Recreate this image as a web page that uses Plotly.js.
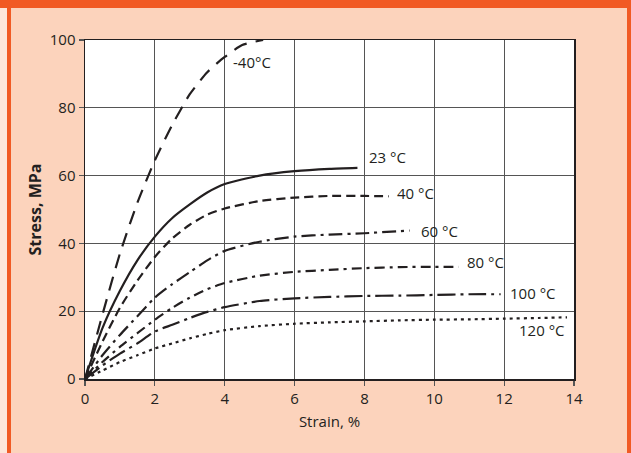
<!DOCTYPE html>
<html><head><meta charset="utf-8">
<script src="https://cdn.plot.ly/plotly-3.0.1.min.js"></script>
<style>
html,body{margin:0;padding:0;}
#frame{position:absolute;left:0;top:0;width:631px;height:453px;background:#fcd3bc;overflow:hidden;}
#topbar{position:absolute;left:0;top:0;width:631px;height:8px;background:#f15a24;}
#leftlite{position:absolute;left:0;top:8px;width:7px;height:445px;background:#fde6da;}
#leftbar{position:absolute;left:7px;top:8px;width:4px;height:445px;background:#f15a24;}
#rightbar{position:absolute;left:627px;top:8px;width:4px;height:445px;background:#f15a24;}
#chart{position:absolute;left:0;top:0;width:631px;height:453px;}
</style></head>
<body>
<div id="frame"><div id="topbar"></div><div id="leftlite"></div><div id="leftbar"></div><div id="rightbar"></div></div>
<div id="chart"></div>
<script>
// Strain (%) and stress (MPa)
const xM40 = [0,0.5,1,1.5,2,2.5,3,3.5,4,4.5,5.1];
const yM40 = [0,19,37,52,64.5,75,84,90.5,95,98.5,100];
const x23 = [0,0.5,1,1.5,2,2.5,3,3.5,4,5,6,7,7.8];
const y23 = [0,15,26,35,42,47.5,51.5,55,57.5,60,61.3,62,62.3];
const x40 = [0,0.5,1,1.5,2,2.5,3,3.5,4,5,6,7,8,8.7];
const y40 = [0,11,21,29,36,41.5,45.5,48.5,50.3,52.5,53.5,54,54,53.9];
const x60 = [0,0.5,1,1.5,2,2.5,3,3.5,4,5,6,7,8,9.3];
const y60 = [0,7,13,18.5,24,28,31.5,35,37.8,40.5,42,42.6,43,43.8];
const x80 = [0,0.5,1,1.5,2,2.5,3,3.5,4,5,6,7,8,9,10,10.7];
const y80 = [0,5,9.5,13.5,17.5,21,24,26.5,28.3,30.5,31.6,32.2,32.7,33,33.1,33.1];
const x100 = [0,0.5,1,1.5,2,2.5,3,3.5,4,5,6,7,8,9,10,11,11.9];
const y100 = [0,4,7.5,10.5,14,16,18,19.8,21.2,23,23.8,24.2,24.5,24.6,24.8,25,25];
const x120 = [0,0.5,1,1.5,2,2.5,3,3.5,4,5,6,7,8,9,10,11,12,13,13.8];
const y120 = [0,2.5,5,7,9,10.5,12,13.3,14.4,15.6,16.3,16.7,17,17.3,17.5,17.6,17.8,18,18.2];

const labels = ['-40°C','23 °C','40 °C','60 °C','80 °C','100 °C','120 °C'];
const labelX = [4.18,8.08,8.87,9.57,10.88,12.1,12.38];
const labelY = [93.5,65.4,54.8,43.7,34.6,25.5,14.5];

const xTicks = [0,2,4,6,8,10,12,14];
const yTicks = [0,20,40,60,80,100];

const ink = '#231f20';
const font = 'Open Sans, Noto Sans, sans-serif';
const series = [
  [xM40,yM40,'14px,9px'],
  [x23,y23,'solid'],
  [x40,y40,'9px,5px'],
  [x60,y60,'14px,5px,3px,5px'],
  [x80,y80,'10px,5px,3px,5px'],
  [x100,y100,'18px,5px,3px,5px'],
  [x120,y120,'3px,4px']
];
const data = series.map(s => ({x:s[0], y:s[1], mode:'lines', type:'scatter',
  line:{color:ink, width:2.2, dash:s[2], shape:'spline', smoothing:0.6}, hoverinfo:'skip', showlegend:false}));

const annotations = labels.map((t,i)=>({x:labelX[i], y:labelY[i], text:t, xref:'x', yref:'y',
  xanchor:'left', yanchor:'middle', showarrow:false, font:{family:font, size:15, color:ink}}));

const axisCommon = {showline:true, linecolor:ink, linewidth:1.5, mirror:true,
  showgrid:true, gridcolor:'#555', gridwidth:1.2, zeroline:false,
  ticks:'outside', ticklen:5, tickcolor:'#555', tickwidth:1.2,
  tickfont:{family:font, size:15, color:ink}};

const layout = {
  width:631, height:453,
  margin:{l:85, r:57, t:40, b:74},
  paper_bgcolor:'rgba(0,0,0,0)', plot_bgcolor:'#ffffff',
  xaxis:Object.assign({}, axisCommon, {range:[0,14], tickvals:xTicks, ticktext:xTicks.map(String),
    title:{text:'Strain, %', font:{family:font, size:15, color:ink}, standoff:10}}),
  yaxis:Object.assign({}, axisCommon, {range:[0,100], tickvals:yTicks, ticktext:yTicks.map(String),
    title:{text:'<b>Stress, MPa</b>', font:{family:font, size:16, color:ink}, standoff:4}}),
  annotations:annotations
};
Plotly.newPlot('chart', data, layout, {staticPlot:true, displayModeBar:false});
</script>
</body></html>
